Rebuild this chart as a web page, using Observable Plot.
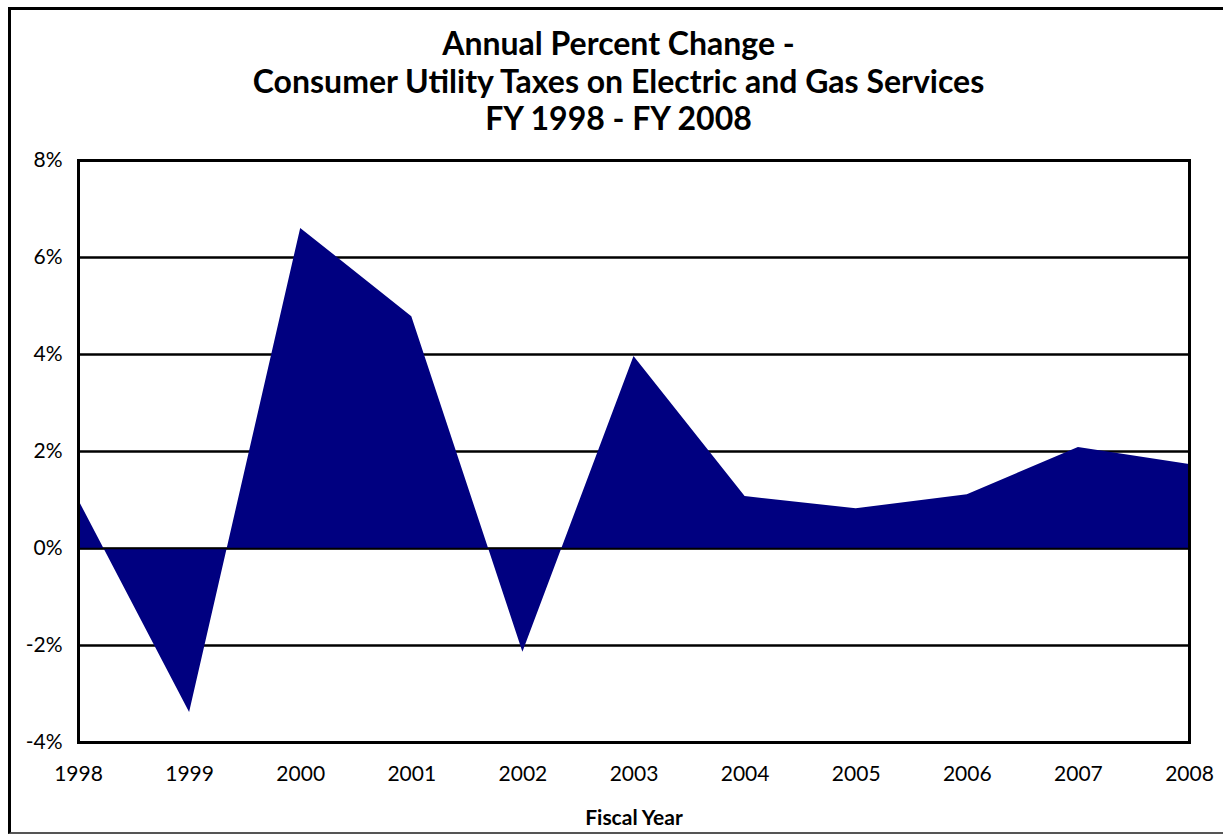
<!DOCTYPE html>
<html>
<head>
<meta charset="utf-8">
<script src="https://cdn.jsdelivr.net/npm/d3@7"></script>
<script src="https://cdn.jsdelivr.net/npm/@observablehq/plot@0.6"></script>
<style>
  html, body { margin: 0; padding: 0; background: #fff; }
  #wrap { position: relative; width: 1223px; height: 835px; overflow: hidden; font-family: Lato, "Open Sans", sans-serif; background: #fff; }
  #border { position: absolute; z-index: 2; left: 8px; top: 7px; right: -20px; bottom: 1px; border-left: 3px solid #000; border-top: 3px solid #000; border-bottom: 2px solid #555; pointer-events: none; }
  #title { position: absolute; left: 0; top: 24px; width: 1237px; text-align: center; font-weight: bold; font-size: 32px; line-height: 37.5px; color: #000; }
  #chart { position: absolute; left: 0; top: 140px; z-index: 1; }
</style>
</head>
<body>
<div id="wrap">
  <div id="border"></div>
  <div id="title">Annual Percent Change -<br>Consumer Utility Taxes on Electric and Gas Services<br>FY 1998 - FY 2008</div>
  <div id="chart"></div>
</div>
<script>
const years = [1998, 1999, 2000, 2001, 2002, 2003, 2004, 2005, 2006, 2007, 2008];
const pctChange = [1.0, -3.38, 6.6, 4.78, -2.14, 3.96, 1.07, 0.82, 1.11, 2.08, 1.73];
const yTicks = [-4, -2, 0, 2, 4, 6, 8];
const xLabel = "Fiscal Year";

const data = years.map((year, i) => ({ year, value: pctChange[i] }));

const chart = Plot.plot({
  width: 1223,
  height: 695,
  marginTop: 20,
  marginBottom: 93,
  marginLeft: 78,
  marginRight: 34,
  style: { fontFamily: "Lato, 'Open Sans', sans-serif", fontSize: "21px", color: "#000", background: "transparent" },
  x: { domain: [years[0], years[years.length - 1]] },
  y: { domain: [yTicks[0], yTicks[yTicks.length - 1]] },
  marks: [
    Plot.ruleY(yTicks, { stroke: "#000", strokeWidth: 2.5 }),
    Plot.areaY(data, { x: "year", y: "value", fill: "#000080" }),
    Plot.ruleY([0], { stroke: "#000", strokeWidth: 1.5 }),
    Plot.frame({ stroke: "#000", strokeWidth: 3 }),
    Plot.axisY({ ticks: yTicks, tickFormat: d => d + "%", tickSize: 0, tickPadding: 16, label: null, fontSize: 21 }),
    Plot.axisX({ ticks: years, tickFormat: d => String(d), tickSize: 0, tickPadding: 24, label: null, fontSize: 21 }),
    Plot.text([xLabel], { frameAnchor: "bottom", dy: 82, fontWeight: "bold", fontSize: 21, text: d => d })
  ]
});
document.getElementById("chart").appendChild(chart);
</script>
</body>
</html>
